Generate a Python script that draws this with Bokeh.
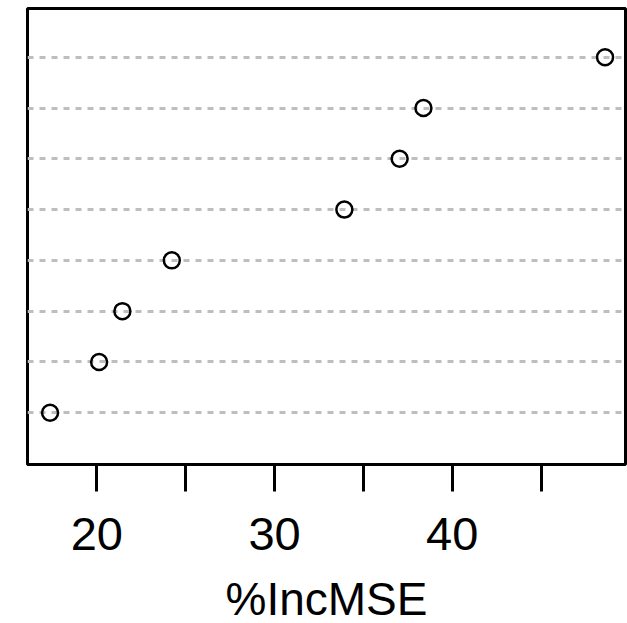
from bokeh.plotting import figure
from bokeh.models import FixedTicker, Range1d
from bokeh.embed import file_html
from bokeh.resources import INLINE

# Data (bottom row first)
rows = [1, 2, 3, 4, 5, 6, 7, 8]
inc_mse = [17.37, 20.13, 21.44, 24.22, 33.93, 37.04, 38.38, 48.60]
x_ticks = [20, 25, 30, 35, 40, 45]
x_tick_labels = {20: "20", 25: "", 30: "30", 35: "", 40: "40", 45: ""}
x_title = "%IncMSE"

p = figure(frame_width=598, frame_height=456, output_backend="svg",
           toolbar_location=None, y_axis_location=None,
           x_range=Range1d(16.1, 49.75), y_range=Range1d(-0.02, 8.96),
           min_border_left=27, min_border_right=2, min_border_top=8,
           min_border_bottom=0)
p.background_fill_color = "white"
p.border_fill_color = "white"
p.outline_line_color = "black"
p.outline_line_width = 3

p.xgrid.visible = False
p.ygrid.ticker = FixedTicker(ticks=rows)
p.ygrid.grid_line_color = "#BEBEBE"
p.ygrid.grid_line_width = 3
p.ygrid.grid_line_dash = "6 6"

ax = p.xaxis[0]
ax.ticker = FixedTicker(ticks=x_ticks)
ax.major_label_overrides = x_tick_labels
ax.axis_line_color = None
ax.major_tick_line_color = "black"
ax.major_tick_line_width = 3
ax.major_tick_out = 27
ax.major_tick_in = 0
ax.minor_tick_line_color = None
ax.major_label_text_font = "Liberation Sans"
ax.major_label_text_font_size = "47px"
ax.major_label_text_color = "black"
ax.major_label_standoff = 26
ax.axis_label = x_title
ax.axis_label_text_font = "Liberation Sans"
ax.axis_label_text_font_size = "46px"
ax.axis_label_text_font_style = "normal"
ax.axis_label_text_color = "black"
ax.axis_label_standoff = 20

p.scatter(x=inc_mse, y=rows, size=16, marker="circle", fill_color=None,
          line_color="black", line_width=2.5)

open("out.html", "w").write(file_html(p, INLINE))
